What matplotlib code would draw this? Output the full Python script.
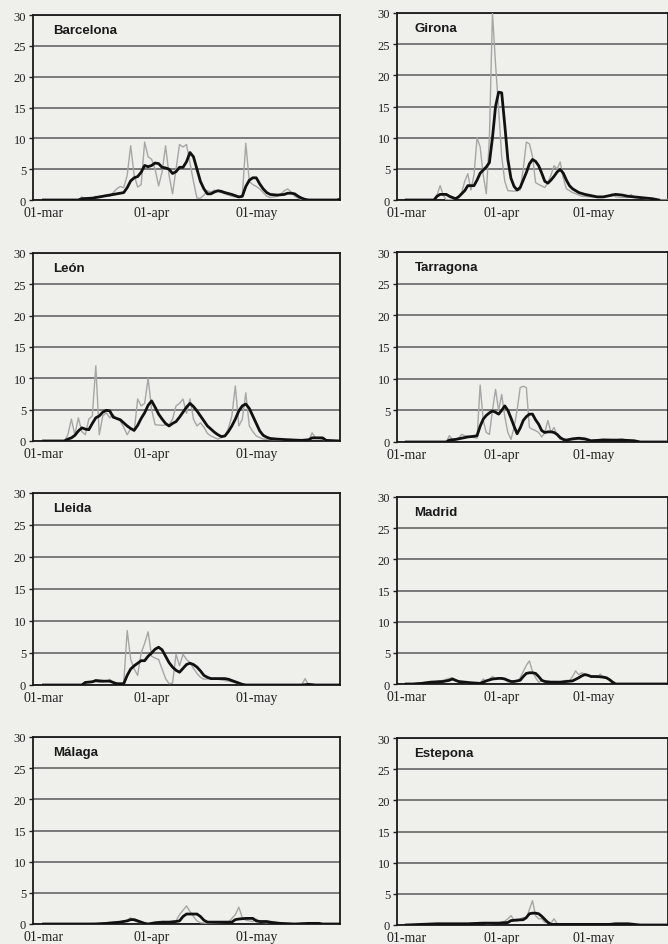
import matplotlib
matplotlib.use("Agg")
import matplotlib.pyplot as plt

# day offsets from 01-mar
tick_days = [0, 31, 61]
tick_labels = ["01-mar", "01-apr", "01-may"]
y_ticks = [0, 5, 10, 15, 20, 25, 30]

barcelona_grey = [(0, 0), (10, 0), (11, 0.5), (12, 0.2), (14, 0.3), (15, 0.6), (16, 0.4), (18, 0.8), (19, 0.6),
                  (20, 1.2), (21, 1.8), (22, 2.2), (23, 2.0), (24, 4.0), (25, 8.8), (26, 4.0), (27, 2.1), (28, 2.5),
                  (29, 9.4), (30, 7.0), (31, 6.6), (32, 5.0), (33, 2.3), (34, 4.5), (35, 8.8), (36, 4.0), (37, 1.0),
                  (38, 5.0), (39, 9.0), (40, 8.6), (41, 9.0), (42, 6.0), (43, 3.0), (44, 0.3), (45, 0.3), (46, 0.8),
                  (47, 1.5), (48, 1.3), (49, 1.6), (50, 1.4), (52, 1.0), (54, 0.6), (56, 0.4), (57, 0.8), (58, 9.2),
                  (59, 3.0), (60, 2.5), (61, 2.2), (62, 1.8), (63, 1.2), (64, 0.6), (65, 0.4), (67, 0.6), (68, 0.9),
                  (69, 1.5), (70, 1.8), (71, 1.3), (72, 0.6), (73, 0.3), (74, 0.1), (75, 0), (85, 0)]
barcelona_black = [(0, 0), (10, 0), (11, 0.2), (14, 0.3), (16, 0.5), (19, 0.8), (21, 1.0), (23, 1.2), (24, 2.0),
                   (25, 3.1), (26, 3.6), (27, 3.8), (28, 4.5), (29, 5.6), (30, 5.4), (31, 5.6), (32, 6.0), (33, 5.9),
                   (34, 5.3), (35, 5.2), (36, 5.0), (37, 4.3), (38, 4.6), (39, 5.3), (40, 5.3), (41, 6.2), (42, 7.7),
                   (43, 7.0), (44, 5.0), (45, 3.0), (46, 1.8), (47, 1.0), (48, 1.0), (49, 1.3), (50, 1.5), (51, 1.4),
                   (52, 1.2), (54, 0.9), (56, 0.5), (57, 0.6), (58, 2.2), (59, 3.2), (60, 3.6), (61, 3.6), (62, 2.6),
                   (63, 1.8), (64, 1.2), (65, 0.9), (67, 0.8), (69, 0.9), (70, 1.1), (71, 1.1), (72, 1.0), (73, 0.6),
                   (74, 0.3), (75, 0.1), (76, 0), (84, 0), (85, 0.1)]

girona_grey = [(0, 0), (9, 0), (10, 0.8), (11, 2.3), (12, 0.8), (13, 0), (16, 0.2), (17, 0.5), (18, 1.2), (19, 3.0),
               (20, 4.2), (21, 1.6), (22, 4.0), (23, 10.0), (24, 8.5), (25, 4.0), (26, 1.0), (27, 10.0), (28, 30.0),
               (29, 21.8), (30, 14.6), (31, 7.0), (32, 3.0), (33, 1.5), (35, 1.4), (37, 1.6), (38, 5.0), (39, 9.3),
               (40, 9.0), (41, 7.0), (42, 2.8), (43, 2.5), (45, 2.0), (46, 2.8), (47, 4.0), (48, 5.5), (49, 5.0),
               (50, 6.1), (51, 3.5), (52, 1.8), (54, 1.2), (55, 1.0), (57, 0.6), (60, 0.5), (63, 0.4), (65, 0.6),
               (67, 1.0), (68, 0.5), (70, 0.4), (72, 0.4), (73, 0.9), (74, 0.4), (78, 0.2), (80, 0), (85, 0)]
girona_black = [(0, 0), (9, 0), (10, 0.6), (11, 0.9), (13, 0.9), (14, 0.6), (16, 0.2), (17, 0.5), (19, 1.5),
                (20, 2.3), (22, 2.3), (23, 3.2), (24, 4.3), (25, 4.8), (26, 5.3), (27, 6.0), (28, 10.0), (29, 15.0),
                (30, 17.3), (31, 17.2), (32, 12.0), (33, 6.5), (34, 3.5), (35, 2.2), (36, 1.6), (37, 2.0), (38, 3.2),
                (39, 4.4), (40, 5.8), (41, 6.5), (42, 6.2), (43, 5.5), (44, 4.3), (45, 3.0), (46, 2.7), (47, 3.2),
                (48, 3.8), (49, 4.5), (50, 4.9), (51, 4.3), (52, 3.2), (53, 2.3), (54, 1.8), (55, 1.5), (56, 1.2),
                (58, 0.9), (60, 0.7), (62, 0.5), (64, 0.5), (66, 0.7), (68, 0.9), (70, 0.8), (72, 0.6), (74, 0.5),
                (76, 0.4), (80, 0.2), (82, 0)]

leon_grey = [(0, 0), (6, 0), (7, 1.0), (8, 3.5), (9, 1.0), (10, 3.7), (11, 1.5), (12, 1.0), (13, 3.5), (14, 4.0),
             (15, 12.0), (16, 1.0), (17, 4.0), (18, 4.5), (19, 3.7), (20, 4.2), (21, 3.5), (22, 3.2), (23, 2.2),
             (24, 1.0), (25, 2.0), (26, 1.5), (27, 6.7), (28, 5.6), (29, 6.0), (30, 10.0), (31, 5.0), (32, 2.6),
             (34, 2.5), (36, 2.6), (37, 3.5), (38, 5.6), (39, 6.0), (40, 6.7), (41, 4.4), (42, 6.7), (43, 3.5),
             (44, 2.4), (45, 2.9), (46, 2.2), (47, 1.2), (48, 0.8), (50, 0.3), (52, 0.8), (53, 2.0), (54, 4.0),
             (55, 8.8), (56, 2.4), (57, 3.5), (58, 7.7), (59, 2.4), (60, 1.5), (61, 0.8), (63, 0.3), (66, 0.2),
             (70, 0.1), (76, 0), (77, 1.3), (78, 0.5), (80, 0.3), (81, 0), (85, 0)]
leon_black = [(0, 0), (6, 0), (7, 0.3), (8, 0.5), (9, 0.9), (10, 1.6), (11, 2.1), (12, 1.9), (13, 1.8), (14, 2.8),
              (15, 3.7), (16, 4.0), (17, 4.6), (18, 4.9), (19, 4.8), (20, 3.8), (21, 3.6), (22, 3.4), (23, 2.9),
              (24, 2.4), (25, 2.0), (26, 1.7), (27, 2.5), (28, 3.6), (29, 4.5), (30, 5.7), (31, 6.4), (32, 5.4),
              (33, 4.3), (34, 3.5), (35, 2.8), (36, 2.4), (37, 2.8), (38, 3.1), (39, 3.8), (40, 4.6), (41, 5.4),
              (42, 6.0), (43, 5.5), (44, 4.8), (45, 4.0), (46, 3.2), (47, 2.4), (48, 1.9), (49, 1.4), (50, 1.0),
              (51, 0.7), (52, 0.8), (53, 1.5), (54, 2.4), (55, 3.5), (56, 4.8), (57, 5.6), (58, 5.9), (59, 5.2),
              (60, 4.0), (61, 2.8), (62, 1.6), (63, 0.9), (64, 0.6), (65, 0.4), (67, 0.3), (70, 0.2), (74, 0.1),
              (76, 0.2), (77, 0.5), (80, 0.5), (81, 0.1), (85, 0)]

tarragona_grey = [(0, 0), (13, 0), (14, 1.0), (15, 0.4), (17, 0.6), (18, 1.2), (19, 1.0), (21, 0.8), (23, 0.6),
                  (24, 9.0), (25, 3.4), (26, 1.5), (27, 1.2), (28, 5.0), (29, 8.3), (30, 5.0), (31, 7.5), (32, 4.0),
                  (33, 1.5), (34, 0.4), (35, 2.3), (36, 5.0), (37, 8.6), (38, 8.8), (39, 8.6), (40, 2.3), (41, 2.0),
                  (42, 1.8), (43, 1.5), (44, 0.8), (45, 1.5), (46, 3.4), (47, 1.5), (48, 2.3), (49, 1.0), (50, 0.4),
                  (53, 0.3), (56, 0.4), (60, 0.2), (64, 0.5), (68, 0.3), (70, 0.5), (72, 0.2), (76, 0), (85, 0)]
tarragona_black = [(0, 0), (13, 0), (14, 0.3), (16, 0.4), (18, 0.6), (20, 0.8), (22, 0.9), (23, 1.0), (24, 2.5),
                   (25, 3.6), (26, 4.2), (27, 4.6), (28, 4.9), (29, 4.7), (30, 4.4), (31, 5.0), (32, 5.7), (33, 5.0),
                   (34, 3.8), (35, 2.5), (36, 1.3), (37, 2.2), (38, 3.4), (39, 4.0), (40, 4.4), (41, 4.4), (42, 3.5),
                   (43, 2.8), (44, 1.8), (45, 1.5), (46, 1.6), (47, 1.6), (48, 1.5), (49, 1.2), (50, 0.7), (51, 0.4),
                   (52, 0.3), (54, 0.5), (56, 0.6), (58, 0.5), (60, 0.2), (64, 0.3), (70, 0.3), (74, 0.2), (76, 0),
                   (85, 0)]

lleida_grey = [(0, 0), (11, 0), (12, 0.4), (14, 0.6), (16, 0.4), (18, 0.6), (19, 0.9), (20, 0.4), (22, 0.2),
               (23, 0.3), (24, 8.5), (25, 4.0), (26, 2.5), (27, 1.5), (28, 5.0), (29, 6.5), (30, 8.3), (31, 4.5),
               (32, 4.2), (33, 4.0), (34, 2.5), (35, 1.0), (36, 0.2), (37, 0.3), (38, 4.8), (39, 3.0), (40, 4.8),
               (41, 4.0), (42, 3.5), (43, 2.6), (44, 1.8), (45, 1.2), (46, 0.9), (48, 1.0), (50, 0.9), (52, 0.7),
               (54, 0.5), (56, 0.2), (58, 0), (74, 0), (75, 1.0), (76, 0), (85, 0)]
lleida_black = [(0, 0), (11, 0), (12, 0.4), (14, 0.5), (15, 0.7), (17, 0.6), (19, 0.6), (20, 0.4), (21, 0.2),
                (23, 0.2), (24, 1.5), (25, 2.5), (26, 3.0), (27, 3.4), (28, 3.8), (29, 3.8), (30, 4.5), (31, 5.0),
                (32, 5.6), (33, 5.9), (34, 5.5), (35, 4.5), (36, 3.5), (37, 2.8), (38, 2.3), (39, 2.0), (40, 2.6),
                (41, 3.2), (42, 3.4), (43, 3.2), (44, 2.8), (45, 2.2), (46, 1.5), (47, 1.2), (48, 1.0), (50, 1.0),
                (52, 1.0), (53, 0.9), (55, 0.5), (57, 0.1), (58, 0), (74, 0), (76, 0.1), (78, 0), (85, 0)]

madrid_grey = [(0, 0), (2, 0), (5, 0.2), (8, 0.3), (10, 0.4), (12, 0.6), (14, 0.9), (15, 1.0), (16, 0.5), (18, 0.3),
               (20, 0.2), (22, 0.1), (24, 0.1), (25, 0.8), (26, 0.4), (27, 0.8), (28, 1.2), (29, 0.8), (30, 1.0),
               (31, 0.8), (32, 0.7), (33, 0.3), (34, 0.5), (36, 0.4), (37, 1.0), (38, 2.0), (39, 3.0), (40, 3.7),
               (41, 2.0), (42, 1.0), (43, 0.3), (44, 0.5), (46, 0.3), (48, 0.4), (50, 0.3), (52, 0.6), (53, 0.5),
               (54, 1.2), (55, 2.1), (56, 1.5), (57, 1.8), (58, 1.6), (60, 1.3), (62, 1.0), (63, 1.6), (64, 1.0),
               (66, 0.8), (67, 0.4), (68, 0), (85, 0)]
madrid_black = [(0, 0), (2, 0), (5, 0.1), (8, 0.3), (10, 0.35), (12, 0.4), (14, 0.6), (15, 0.8), (16, 0.6),
                (17, 0.4), (19, 0.3), (21, 0.2), (24, 0.1), (25, 0.3), (26, 0.5), (28, 0.8), (30, 0.9), (31, 0.9),
                (32, 0.8), (33, 0.6), (34, 0.4), (35, 0.4), (36, 0.5), (37, 0.6), (38, 1.2), (39, 1.7), (40, 1.8),
                (41, 1.8), (42, 1.7), (43, 1.2), (44, 0.6), (45, 0.4), (47, 0.3), (50, 0.3), (52, 0.4), (54, 0.5),
                (56, 1.0), (57, 1.3), (58, 1.5), (59, 1.4), (60, 1.2), (62, 1.2), (64, 1.1), (65, 1.0), (66, 0.7),
                (67, 0.3), (68, 0), (85, 0)]

malaga_grey = [(0, 0), (10, 0), (15, 0.1), (18, 0.2), (20, 0.3), (22, 0.4), (24, 0.6), (25, 1.0), (26, 0.5),
               (27, 0.3), (28, 0.2), (30, 0), (32, 0.2), (34, 0.3), (36, 0.3), (38, 0.5), (39, 1.5), (40, 2.2),
               (41, 2.9), (42, 2.0), (43, 1.2), (44, 0.5), (45, 0.2), (47, 0.1), (50, 0.2), (53, 0.3), (55, 1.5),
               (56, 2.7), (57, 1.0), (58, 0.6), (60, 0.4), (61, 0.8), (62, 0.3), (64, 0.2), (66, 0.4), (68, 0.1),
               (72, 0), (76, 0.2), (78, 0.1), (80, 0), (85, 0)]
malaga_black = [(0, 0), (15, 0), (18, 0.1), (20, 0.2), (22, 0.3), (24, 0.5), (25, 0.7), (26, 0.7), (27, 0.5),
                (28, 0.3), (29, 0.1), (30, 0), (32, 0.2), (34, 0.3), (36, 0.3), (38, 0.4), (39, 0.5), (40, 1.2),
                (41, 1.6), (43, 1.6), (44, 1.6), (45, 1.2), (46, 0.6), (47, 0.3), (50, 0.3), (52, 0.3), (54, 0.3),
                (55, 0.7), (56, 0.8), (58, 0.9), (60, 0.9), (61, 0.5), (62, 0.4), (64, 0.4), (66, 0.2), (68, 0.1),
                (72, 0), (76, 0.1), (79, 0.1), (80, 0), (85, 0)]

estepona_grey = [(0, 0), (5, 0.1), (10, 0.2), (20, 0.2), (24, 0.4), (26, 0.2), (30, 0.3), (32, 0.6), (33, 1.0),
                 (34, 1.5), (35, 0.8), (36, 0.6), (37, 1.0), (38, 1.2), (39, 1.0), (40, 2.5), (41, 3.9), (42, 1.5),
                 (43, 1.0), (44, 1.0), (45, 0.4), (46, 0.6), (47, 0.3), (48, 1.0), (49, 0.2), (52, 0.1), (60, 0.1),
                 (68, 0.2), (72, 0.2), (75, 0), (85, 0)]
estepona_black = [(0, 0), (5, 0.1), (10, 0.2), (20, 0.2), (25, 0.3), (30, 0.3), (33, 0.4), (34, 0.7), (36, 0.8),
                  (38, 0.85), (39, 1.2), (40, 1.8), (41, 1.9), (42, 1.9), (43, 1.8), (44, 1.4), (45, 0.9), (46, 0.4),
                  (47, 0.1), (50, 0.1), (60, 0.1), (66, 0.1), (68, 0.2), (72, 0.2), (74, 0.1), (76, 0), (85, 0)]

cities = ["Barcelona", "Girona", "León", "Tarragona", "Lleida", "Madrid", "Málaga", "Estepona"]
greys = [barcelona_grey, girona_grey, leon_grey, tarragona_grey, lleida_grey, madrid_grey, malaga_grey, estepona_grey]
blacks = [barcelona_black, girona_black, leon_black, tarragona_black, lleida_black, madrid_black, malaga_black,
          estepona_black]

# panel rectangles in pixels (left, top, right, bottom) of the 668x945 page
W, H = 668, 945
rects = [(33, 16, 340, 201), (397, 14, 668, 201),
         (33, 254, 340, 442), (397, 253, 668, 443),
         (33, 494, 340, 686), (397, 498, 668, 685),
         (33, 738, 340, 925), (397, 739, 668, 926)]

bg = "#efefec"
fig = plt.figure(figsize=(W / 100, H / 100), dpi=100, facecolor=bg)

for name, grey, black, (l, t, r, b) in zip(cities, greys, blacks, rects):
    ax = fig.add_axes([l / W, 1 - b / H, (r - l) / W, (b - t) / H], facecolor=bg)
    gx, gy = zip(*grey)
    bx, by = zip(*black)
    ax.plot(gx, gy, color="#a6a6a6", lw=1.0, zorder=3)
    ax.plot(bx, by, color="#111111", lw=2.0, zorder=4)
    ax.set_xlim(-3, 85)
    ax.set_ylim(0, 30)
    ax.set_yticks(y_ticks)
    ax.set_yticklabels([str(v) for v in y_ticks], family="Liberation Serif", fontsize=9)
    ax.set_xticks(tick_days)
    ax.set_xticklabels(tick_labels, family="Liberation Serif", fontsize=10)
    ax.tick_params(axis="y", length=3, width=1, pad=2, colors="#222222")
    ax.tick_params(axis="x", length=0, pad=4, colors="#222222")
    ax.grid(axis="y", color="#5a5a5a", lw=1.1)
    ax.set_axisbelow(True)
    for s in ax.spines.values():
        s.set_color("#1a1a1a")
        s.set_linewidth(1.3)
    ax.text(0.065, 0.92, name, transform=ax.transAxes, ha="left", va="center",
            family="Liberation Sans", fontsize=9.5, fontweight="bold", color="#1a1a1a")

fig.savefig("out.png", dpi=100, facecolor=bg)
